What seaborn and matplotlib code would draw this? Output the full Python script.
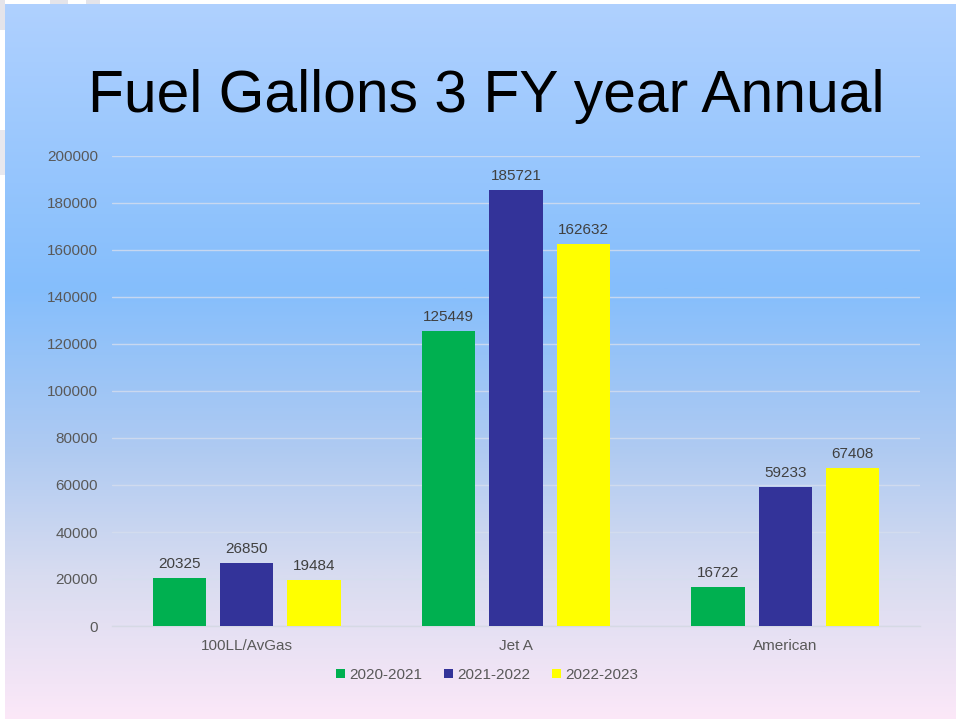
import numpy as np
import pandas as pd
import matplotlib
matplotlib.use("Agg")
import matplotlib.pyplot as plt
from matplotlib.colors import LinearSegmentedColormap
import seaborn as sns

categories = ["100LL/AvGas", "Jet A", "American"]
years = ["2020-2021", "2021-2022", "2022-2023"]
v_2020_2021 = [20325, 125449, 16722]
v_2021_2022 = [26850, 185721, 59233]
v_2022_2023 = [19484, 162632, 67408]
yticks = [0, 20000, 40000, 60000, 80000, 100000, 120000, 140000, 160000, 180000, 200000]
title = "Fuel Gallons 3 FY year Annual"

rows = []
for yr, vals in zip(years, [v_2020_2021, v_2021_2022, v_2022_2023]):
    for c, v in zip(categories, vals):
        rows.append({"cat": c, "year": yr, "val": v})
df = pd.DataFrame(rows)

sns.set_theme(style="white")
plt.rcParams["font.family"] = ["Liberation Sans", "DejaVu Sans"]

W, H = 956, 721
fig = plt.figure(figsize=(W / 100, H / 100), dpi=100)

# background gradient
bg = fig.add_axes([0, 0, 1, 1], zorder=-10)
cmap = LinearSegmentedColormap.from_list(
    "bg",
    [(0.0, "#B0D1FF"), (0.40, "#85BEFC"), (0.62, "#AECAF2"),
     (0.80, "#D8DCF0"), (1.0, "#FCE8F8")])
grad = np.linspace(0, 1, 512).reshape(-1, 1)
bg.imshow(grad, aspect="auto", cmap=cmap, extent=[0, W, H, 0])
# white slide borders
bg.fill_between([0, 5], 0, H, color="white", linewidth=0)
bg.fill_between([0, W], 0, 4, color="white", linewidth=0)
bg.fill_between([0, W], H - 2, H, color="white", linewidth=0)
bg.fill_between([0, 5], 0, 30, color="#E4E4EA", linewidth=0)
bg.fill_between([0, 5], 130, 175, color="#E8E8EE", linewidth=0)
bg.fill_between([50, 68], 0, 4, color="#E4E4EA", linewidth=0)
bg.fill_between([86, 100], 0, 4, color="#E4E4EA", linewidth=0)
bg.set_xlim(0, W)
bg.set_ylim(H, 0)
bg.axis("off")

ax = fig.add_axes([112 / W, 1 - 626 / H, (920 - 112) / W, (626 - 156) / H])
ax.patch.set_alpha(0)
palette = {"2020-2021": "#00B050", "2021-2022": "#333399", "2022-2023": "#FFFF00"}
sns.barplot(data=df, x="cat", y="val", hue="year", palette=palette,
            width=0.75, gap=0.21, ax=ax, saturation=1, legend=True, zorder=3,
            linewidth=0, edgecolor="none")

fs = 11
for cont in ax.containers:
    ax.bar_label(cont, labels=[f"{int(v)}" for v in cont.datavalues],
                 padding=5, fontsize=fs, color="#404040")

ax.set_ylim(0, 200000)
ax.set_yticks(yticks)
ax.set_yticklabels([str(t) for t in yticks])
ax.tick_params(axis="y", labelsize=fs, labelcolor="#595959", length=0, pad=10)
ax.tick_params(axis="x", labelsize=fs, labelcolor="#595959", length=0, pad=9)
ax.set_xlabel("")
ax.set_ylabel("")
ax.grid(axis="y", color="#D6DEEE", linewidth=1, alpha=0.8, zorder=0)
ax.set_axisbelow(True)
for s in ["top", "right", "left"]:
    ax.spines[s].set_visible(False)
ax.spines["bottom"].set_color("#D6D9E4")
ax.spines["bottom"].set_linewidth(1)

handles, labels = ax.get_legend_handles_labels()
ax.legend(handles, labels, loc="center", bbox_to_anchor=(487 / W, 1 - 675 / H),
          bbox_transform=fig.transFigure, ncol=3, frameon=False, fontsize=fs,
          handlelength=0.6, handleheight=0.6, handletextpad=0.25, columnspacing=1.45,
          labelcolor="#595959")

fig.text(486 / W, 1 - 97 / H, title, ha="center", va="center", fontsize=42.3, color="black")

fig.savefig("out.png", dpi=100)
